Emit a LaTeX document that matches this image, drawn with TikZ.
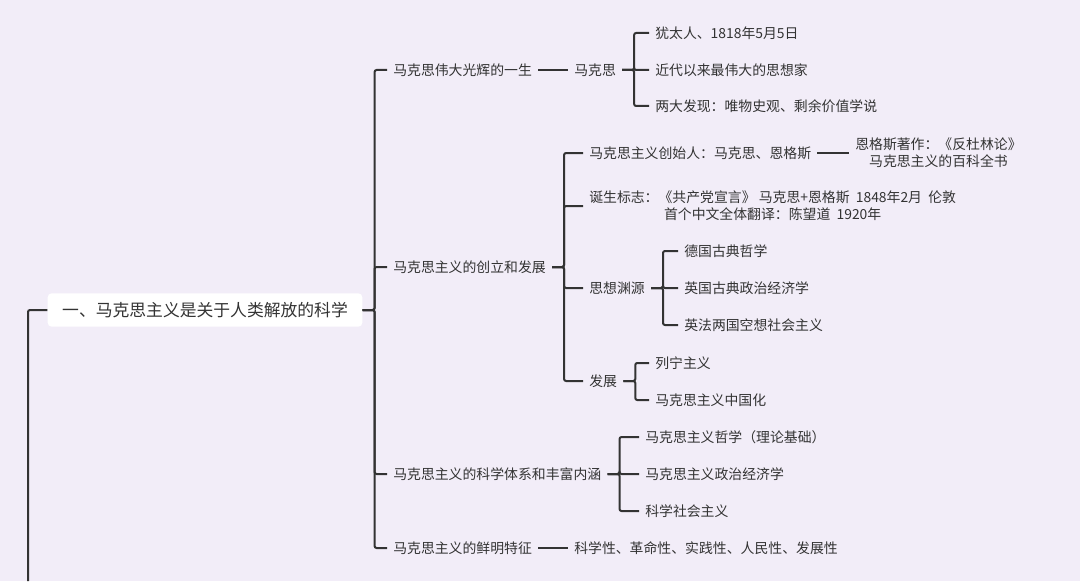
\documentclass[tikz,border=0pt]{standalone}
\usepackage{fontspec}
\setmainfont{Noto Sans CJK SC}
\usetikzlibrary{positioning}
\definecolor{bgc}{HTML}{F2EDF8}
\definecolor{ink}{HTML}{333333}

\begin{document}
\begin{tikzpicture}[
    x=0.75pt, y=-0.75pt,
    item/.style={anchor=west, inner xsep=4.5pt, inner ysep=1pt, text=ink, font=\fontsize{10.4pt}{13pt}\selectfont},
    root/.style={fill=white, rounded corners=3pt, text=ink, minimum width=236pt, minimum height=25pt, font=\fontsize{12.6pt}{15pt}\selectfont},
    link/.style={draw=ink, line width=1.5pt, rounded corners=1.5pt}
]
\fill[bgc] (0,0) rectangle (1080,581);
\useasboundingbox (0,0) rectangle (1080,581);

\node[root] (root) at (205,310) {一、马克思主义是关于人类解放的科学};
\coordinate (rootend) at (28,581);

% first level
\node[item] (life) at (387,70) {马克思伟大光辉的一生};
\node[item] (found) at (387,267) {马克思主义的创立和发展};
\node[item] (system) at (387,474) {马克思主义的科学体系和丰富内涵};
\node[item] (feat) at (387,548) {马克思主义的鲜明特征};

% marx
\node[item] (marx) at (568,70) {马克思};
\node[item] (jew) at (649,33) {犹太人、1818年5月5日};
\node[item] (thinker) at (649,70) {近代以来最伟大的思想家};
\node[item] (disc) at (649,106) {两大发现：唯物史观、剩余价值学说};

% founding
\node[item] (fathers) at (583,153) {马克思主义创始人：马克思、恩格斯};
\node[item, align=center] (antid) at (849,153) {恩格斯著作：《反杜林论》\\马克思主义的百科全书};
\node[item, align=center] (birth) at (583,206) {诞生标志：《共产党宣言》 马克思+恩格斯\ \ 1848年2月\ \ 伦敦\\首个中文全体翻译：陈望道\ \ 1920年};
\node[item] (source) at (583,288) {思想渊源};
\node[item] (phil) at (678,251) {德国古典哲学};
\node[item] (econ) at (678,288) {英国古典政治经济学};
\node[item] (soc) at (678,325) {英法两国空想社会主义};
\node[item] (devel) at (583,381) {发展};
\node[item] (lenin) at (649,363) {列宁主义};
\node[item] (sinic) at (649,400) {马克思主义中国化};

% system
\node[item] (mphil) at (639,437) {马克思主义哲学（理论基础）};
\node[item] (mecon) at (639,474) {马克思主义政治经济学};
\node[item] (msoc) at (639,511) {科学社会主义};

% features
\node[item] (traits) at (568,548) {科学性、革命性、实践性、人民性、发展性};

% connectors
\draw[link] (root.west) -| (rootend);
\foreach \c in {life, found, system, feat}
    \draw[link] (root.east) -- ++(12,0) |- (\c.west);
\draw[link] (life) -- (marx);
\foreach \c in {jew, thinker, disc}
    \draw[link] (marx.east) -- ++(12,0) |- (\c.west);
\foreach \c in {fathers, birth, source, devel}
    \draw[link] (found.east) -- ++(12,0) |- (\c.west);
\draw[link] (fathers) -- (antid);
\foreach \c in {phil, econ, soc}
    \draw[link] (source.east) -- ++(12,0) |- (\c.west);
\foreach \c in {lenin, sinic}
    \draw[link] (devel.east) -- ++(12,0) |- (\c.west);
\foreach \c in {mphil, mecon, msoc}
    \draw[link] (system.east) -- ++(12,0) |- (\c.west);
\draw[link] (feat) -- (traits);

\end{tikzpicture}
\end{document}
